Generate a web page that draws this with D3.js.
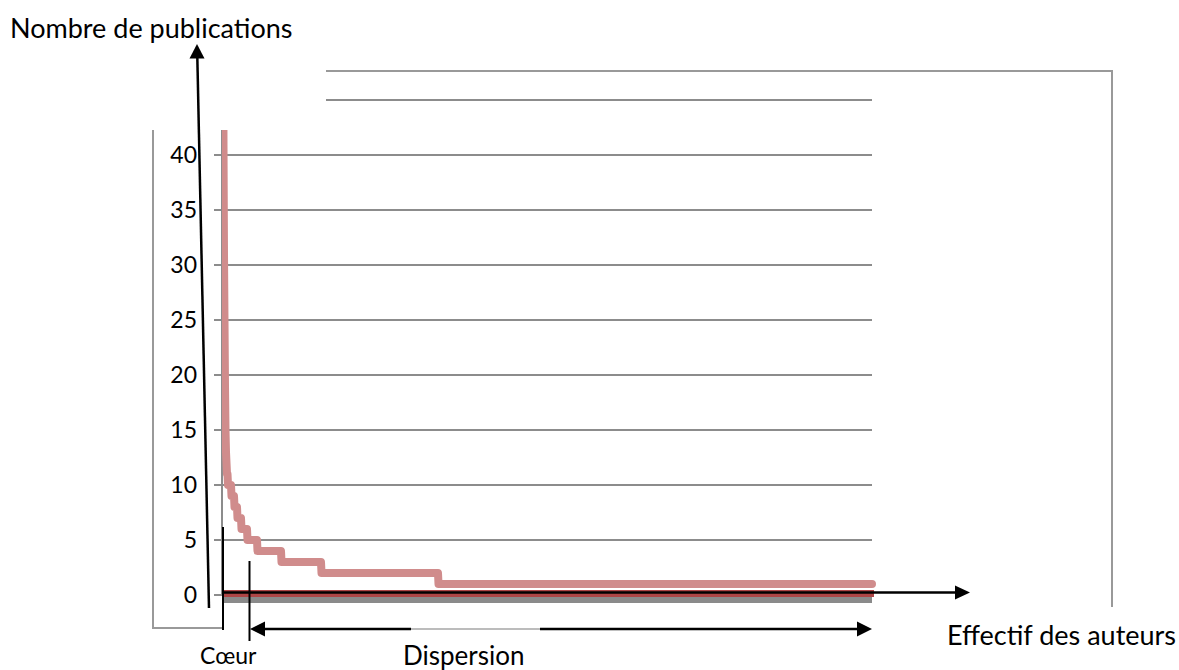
<!DOCTYPE html>
<html>
<head>
<meta charset="utf-8">
<script src="https://cdn.jsdelivr.net/npm/d3@7"></script>
<style>
  html, body { margin: 0; padding: 0; background: #fff; }
  svg { display: block; }
  text { font-family: Lato, "Noto Sans", sans-serif; fill: #000; }
</style>
</head>
<body>
<svg id="chart" width="1179" height="670"></svg>
<script>
// Publications per author, ranked: the most productive authors one by one
const topAuthorPubs = [88, 58, 41, 31, 25, 19, 15, 13, 12, 11, 11];
// then the remaining authors grouped by number of publications
const pubLevels = [10, 9, 8, 7, 6, 5, 4, 3, 2, 1];
const authorsPerLevel = [7, 6, 6, 8, 12, 20, 48, 80, 234, 868];
const yTicks = [0, 5, 10, 15, 20, 25, 30, 35, 40];
const yTitle = "Nombre de publications";
const xTitle = "Effectif des auteurs";
const coreLabel = "Cœur";
const spreadLabel = "Dispersion";

const totalAuthors = topAuthorPubs.length + d3.sum(authorsPerLevel);

const svg = d3.select("#chart");

const x = d3.scaleLinear().domain([0, totalAuthors]).range([222, 872]);
const y = d3.scaleLinear().domain([0, 45]).range([595, 100]);

const gridColor = "#8c8c8c";
const frameColor = "#999";

// ranked points: one per top author, then first/last rank of each level
const points = [];
let rank = 0;
topAuthorPubs.forEach(v => { rank += 1; points.push([rank, v]); });
pubLevels.forEach((v, i) => {
  const first = rank + 1;
  rank += authorsPerLevel[i];
  points.push([first, v]);
  points.push([rank, v]);
});

// outer frame fragments
const frame = svg.append("g").attr("stroke", frameColor).attr("stroke-width", 2).attr("fill", "none");
frame.append("line").attr("x1", 153).attr("x2", 153).attr("y1", 130).attr("y2", 628);
frame.append("line").attr("x1", 152).attr("x2", 222).attr("y1", 628).attr("y2", 628);
frame.append("line").attr("x1", 326).attr("x2", 1113).attr("y1", 71).attr("y2", 71);
frame.append("line").attr("x1", 1112).attr("x2", 1112).attr("y1", 70).attr("y2", 607);

// horizontal gridlines with their tick stubs
const grid = svg.append("g").attr("stroke", gridColor).attr("stroke-width", 2);
grid.selectAll("line.g")
  .data(yTicks)
  .join("line")
  .attr("class", "g")
  .attr("x1", 214).attr("x2", 872)
  .attr("y1", d => y(d)).attr("y2", d => y(d));
grid.append("line")
  .attr("x1", 326).attr("x2", 872)
  .attr("y1", y(45)).attr("y2", y(45));

// value axis line
svg.append("line")
  .attr("x1", x(0)).attr("x2", x(0))
  .attr("y1", 130).attr("y2", y(0))
  .attr("stroke", gridColor).attr("stroke-width", 2);

// tick labels
svg.append("g").selectAll("text")
  .data(yTicks)
  .join("text")
  .attr("x", 197)
  .attr("y", d => y(d))
  .attr("dy", "0.36em")
  .attr("text-anchor", "end")
  .attr("font-size", 23)
  .text(d => d);

// baseline series at zero
svg.append("line")
  .attr("x1", x(0)).attr("x2", x(totalAuthors))
  .attr("y1", y(0) + 5).attr("y2", y(0) + 5)
  .attr("stroke", "#8a8a8a").attr("stroke-width", 6);
svg.append("line")
  .attr("x1", x(0)).attr("x2", x(totalAuthors) + 2)
  .attr("y1", y(0) - 1.5).attr("y2", y(0) - 1.5)
  .attr("stroke", "#ad4545").attr("stroke-width", 7);

// ranked publication curve
svg.append("defs").append("clipPath").attr("id", "plotClip")
  .append("rect").attr("x", 222).attr("y", 130).attr("width", 670).attr("height", 490);

const line = d3.line().x(d => x(d[0])).y(d => y(d[1]));
svg.append("path")
  .datum(points)
  .attr("clip-path", "url(#plotClip)")
  .attr("d", line)
  .attr("fill", "none")
  .attr("stroke", "#d08c8c")
  .attr("stroke-width", 8)
  .attr("stroke-linejoin", "round")
  .attr("stroke-linecap", "round");

// drawn axes with arrowheads
const ink = svg.append("g");
// horizontal arrow
ink.append("line")
  .attr("x1", x(0)).attr("x2", 957)
  .attr("y1", 592.5).attr("y2", 592.5)
  .attr("stroke", "#000").attr("stroke-width", 2.5);
ink.append("path")
  .attr("d", "M970,592.5 L955,585.5 L955,599.5 Z")
  .attr("fill", "#000");
// vertical arrow (slightly tilted)
ink.append("line")
  .attr("x1", 209).attr("y1", 608)
  .attr("x2", 197.3).attr("y2", 56)
  .attr("stroke", "#000").attr("stroke-width", 2.5);
ink.append("path")
  .attr("d", "M197,44 L189.5,58.5 L204.5,58.5 Z")
  .attr("fill", "#000");

// core / dispersion markers
ink.append("line").attr("x1", 223).attr("x2", 223).attr("y1", 527).attr("y2", 630)
  .attr("stroke", "#000").attr("stroke-width", 2);
ink.append("line").attr("x1", 249.5).attr("x2", 249.5).attr("y1", 561).attr("y2", 641)
  .attr("stroke", "#000").attr("stroke-width", 2);
ink.append("line").attr("x1", 262).attr("x2", 411).attr("y1", 629).attr("y2", 629)
  .attr("stroke", "#000").attr("stroke-width", 2.5);
ink.append("line").attr("x1", 411).attr("x2", 540).attr("y1", 629).attr("y2", 629)
  .attr("stroke", "#7a7a7a").attr("stroke-width", 1.2);
ink.append("line").attr("x1", 540).attr("x2", 860).attr("y1", 629).attr("y2", 629)
  .attr("stroke", "#000").attr("stroke-width", 2.5);
ink.append("path").attr("d", "M250,629 L265,621.5 L265,636.5 Z").attr("fill", "#000");
ink.append("path").attr("d", "M872,629 L857,621.5 L857,636.5 Z").attr("fill", "#000");

// titles
svg.append("text").attr("x", 10).attr("y", 38).attr("font-size", 27).text(yTitle);
svg.append("text").attr("x", 947).attr("y", 645).attr("font-size", 27).text(xTitle);
svg.append("text").attr("x", 200).attr("y", 664).attr("font-size", 23).text(coreLabel);
svg.append("text").attr("x", 403).attr("y", 665).attr("font-size", 26).text(spreadLabel);
</script>
</body>
</html>
